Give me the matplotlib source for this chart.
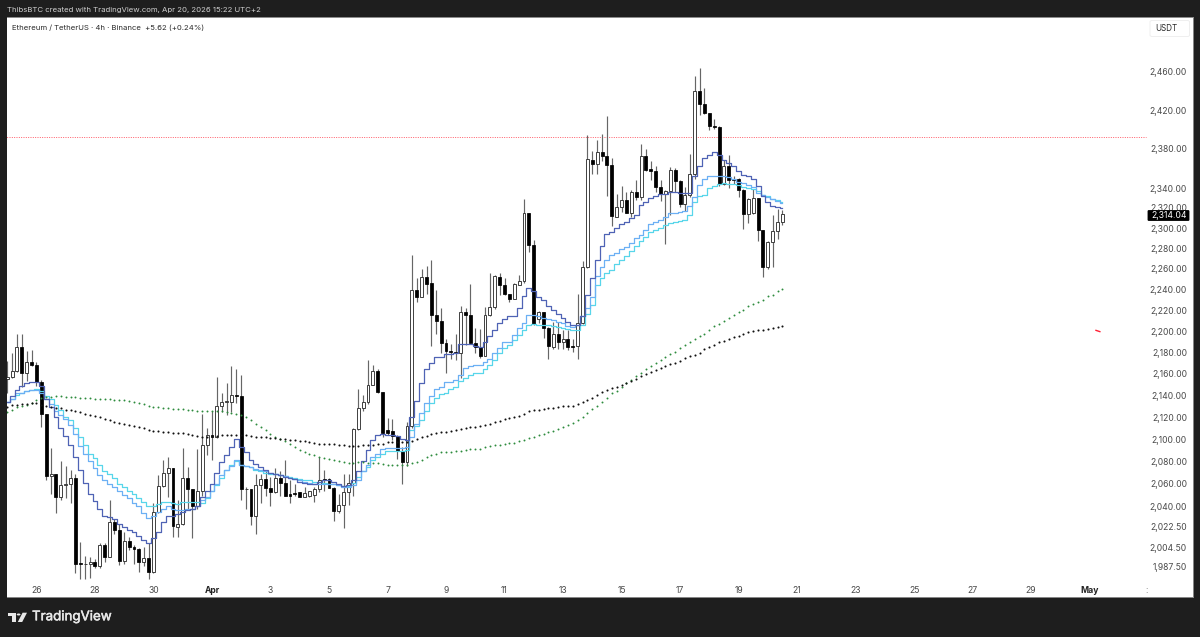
import numpy as np
import matplotlib
matplotlib.use("Agg")
import matplotlib.pyplot as plt
import matplotlib.patheffects as pe
from matplotlib.patches import Polygon, Circle, FancyBboxPatch
from matplotlib.ticker import NullLocator, FixedLocator, FixedFormatter

plt.rcParams['font.family'] = ['Inter', 'DejaVu Sans']

opens = [2155,2157,2163,2185,2161,2171,2168,2152,2123,2067,
 2069,2048,2059,2060,2065,1991,1990,1990,1992,1988,
 2006,1996,2026,2019,1993,2010,2005,2003,1992,1995,
 1983,2035,2058,2070,2074,2022,2025,2065,2055,2040,
 2054,2095,2104,2102,2130,2134,2134,2140,2139,2055,
 2055,2032,2059,2064,2056,2053,2065,2061,2051,2052,
 2053,2048,2049,2050,2055,2064,2064,2056,2036,2041,
 2053,2061,2109,2128,2134,2150,2163,2143,2108,2107,
 2103,2089,2079,2112,2239,2233,2252,2246,2215,2210,
 2189,2181,2180,2179,2218,2215,2189,2185,2177,2215,
 2223,2252,2244,2236,2231,2244,2248,2315,2283,2212,
 2218,2203,2185,2197,2190,2193,2186,2186,2208,2262,
 2368,2364,2377,2373,2363,2311,2321,2328,2315,2336,
 2331,2373,2359,2357,2341,2334,2337,2358,2347,2324,
 2333,2354,2440,2426,2417,2403,2402,2344,2362,2349,
 2349,2338,2314,2315,2330,2298,2262,2286,2297,2306]
highs = [2172,2179,2197,2197,2181,2182,2171,2154,2123,2092,
 2069,2080,2076,2072,2069,2009,1997,1996,1994,2008,
 2008,2046,2029,2025,2018,2013,2006,2004,2005,2008,
 2043,2068,2081,2084,2074,2046,2092,2075,2055,2091,
 2123,2110,2126,2157,2142,2151,2167,2164,2159,2057,
 2055,2069,2069,2071,2066,2074,2071,2081,2063,2060,
 2053,2057,2054,2057,2084,2072,2065,2057,2051,2069,
 2069,2110,2146,2140,2173,2168,2164,2143,2119,2118,
 2104,2093,2116,2273,2251,2260,2263,2269,2239,2222,
 2193,2188,2197,2224,2222,2245,2203,2202,2223,2256,
 2254,2256,2251,2236,2246,2254,2329,2315,2288,2219,
 2218,2204,2209,2209,2201,2201,2193,2236,2268,2394,
 2378,2389,2395,2414,2370,2334,2342,2336,2338,2348,
 2385,2380,2367,2362,2348,2338,2361,2360,2348,2341,
 2375,2456,2464,2443,2417,2411,2403,2368,2374,2352,
 2350,2339,2330,2339,2330,2298,2287,2313,2319,2318]
lows = [2142,2156,2162,2148,2153,2167,2149,2111,2063,2051,
 2034,2046,2047,2043,1982,1977,1977,1978,1987,1987,
 1992,1996,2016,1989,1990,2002,1990,1983,1988,1977,
 1982,2034,2057,2048,2013,2013,2024,2037,2012,2038,
 2049,2086,2081,2101,2125,2122,2125,2133,2046,2038,
 2024,2016,2043,2049,2040,2052,2049,2049,2043,2049,
 2048,2048,2048,2044,2053,2054,2056,2027,2034,2021,
 2041,2049,2108,2126,2132,2150,2142,2102,2104,2099,
 2082,2060,2076,2110,2228,2233,2236,2186,2197,2179,
 2161,2174,2173,2156,2187,2189,2179,2175,2177,2214,
 2221,2235,2235,2228,2231,2244,2246,2276,2206,2208,
 2194,2174,2183,2183,2183,2182,2180,2174,2207,2261,
 2354,2354,2367,2332,2302,2311,2316,2315,2311,2328,
 2328,2357,2348,2336,2327,2284,2313,2336,2321,2317,
 2331,2349,2415,2416,2399,2400,2342,2343,2340,2344,
 2331,2299,2305,2314,2287,2252,2260,2262,2289,2303]
closes = [2157,2163,2185,2161,2171,2168,2152,2123,2067,2069,
 2048,2059,2060,2065,1990,1990,1990,1992,1988,2006,
 1996,2026,2019,1993,2010,2005,2003,1992,1995,1983,
 2035,2058,2070,2074,2023,2025,2065,2055,2040,2054,
 2095,2104,2102,2130,2134,2135,2140,2139,2055,2055,
 2032,2059,2064,2056,2053,2065,2061,2049,2049,2051,
 2048,2052,2054,2055,2063,2063,2056,2036,2041,2053,
 2061,2109,2128,2134,2150,2163,2143,2106,2106,2103,
 2089,2079,2112,2239,2233,2252,2245,2215,2210,2189,
 2181,2180,2179,2218,2215,2189,2185,2177,2215,2223,
 2253,2244,2236,2231,2245,2248,2315,2283,2207,2218,
 2203,2186,2197,2190,2193,2185,2185,2208,2262,2369,
 2364,2377,2373,2363,2312,2321,2328,2315,2336,2331,
 2373,2358,2357,2341,2334,2337,2358,2347,2324,2333,
 2354,2440,2426,2417,2403,2402,2344,2362,2348,2348,
 2338,2314,2329,2330,2298,2262,2286,2297,2306,2314.04]

ma_dark = [2134,2139,2145,2149,2151,2152.5,2152.5,2149,2137,2129,2120,2110,2103,2095,2084,2072,2061,2051,2045,2038,
 2032,2031,2029,2025,2022,2019,2018,2014,2011,2008,2012,2018,2026,2032,2032,2033,2035,2037,2038,2040,
 2048,2054,2060,2070,2079,2086,2093,2100,2093,2088,2081,2078,2075,2072,2070,2069,2068,2066,2065,2064,
 2062,2061,2060,2060,2062,2063,2063,2062,2060,2058,2059,2063,2071,2080,2090,2099,2104,2105,2104,2104,2103,
 2100,2099,
 2120,2135,2151,2164,2170.5,2176,2176,2178.5,2178.5,2179,2188,2188,2188,2186,2185,2190,2195,2201,2207.5,2212,
 2214,2214,2222,2234,2241,2238,2233,2230,2224,2220,2216,2213,2209,2206,2206,
 2214,2235,2251,2269,2282,2294,2296,2300,2304,2306,2310,2313,2323,2326,2330,2332,2334,2334,2336,2336,
 2335,2335,2335,2352,2362,2370,2374,2377,2374,2368,2365,2362,2357,2353,2352,2349,2342,2332,2326,2322,2321,2320]
ma_mid = [2134,2137,2142,2142,2144,2145,2145,2142,2137,2132,2126,2122,2118,2113,2105,2094,2087,2080,2074,2068,
 2063,2060,2057,2054,2050,2047,2043,2040,2034,2030,2032,2035,2038,2040,2038,2037,2037,2038,2038,2040,
 2046,2048,2054,2060,2068,2072,2076,2081,2077,2076,2075,2073,2072,2071,2070,2069,2068,2067,2065,2064,
 2063,2062,2061,2060,2060,2060,2060,2060,2059,2057,2057,2059,2063,2071,2077,2084,2087,2091,2092,2092,2092,
 2092,2093,
 2102,2114,2124,2133,2139,2146,2148,2152,2152,2154.5,2159,2165,2167,2168,2168,2171,2174,2179,2184,2190,
 2190,2196,2203,2207.5,2215,2215,2214,2213,2212,2210.5,2209,2207.5,2205,2204,2206,
 2214,2222,2233,2253,2262,2269,2273,2275,2279,2281,2285,2290,2293,2298,2304,2306,2308,2311,2315,2315,
 2316,2317,2322,2331,2343,2349,2352,2352,2352,2352,2351,2349,2346.5,2345,2343,2341,2335,2333,2331,2329,2327,2325]
ma_cyan = [2134,2137,2140,2142,2144,2145,2146,2144,2139,2137,2131,2127,2120,2117,2110,2102,2095,2087,2083,2077,
 2071,2069,2065,2060,2057,2054,2051,2047,2044,2040,2040,2042,2044,2044,2043,2042,2044,2044,2044,2044,
 2043,2047,2054,2059,2065,2072,2077,2080,2077,2076,2075,2072,2071,2070,2069,2069,2068,2067,2066,2065,
 2064,2063,2063,2062,2062,2061,2060,2060,2059,2058,2058,2061,2066,2071,2075,2081,2084,2087,2089,2089,2089,
 2089,2090,
 2108,2112,2117,2126,2133,2138,2141,2142,2146,2148,2153,2156,2159,2161,2161,2164,2168,2173,2179,2184,
 2187,2192,2196,2201,2206,2207,2206,2206,2206,2205,2204,2203,2202,2201,2201,
 2206,2216,2225,2244,2251,2256,2259,2265,2269,2272,2277,2282,2287,2291,2296,2298,2300,2303,2305,2306,
 2307,2308,2313,2326,2332,2333,2340,2342,2344,2345,2344,2344,2343,2341,2340,2339,2337,2333,2332,2329,2328,2326]
dots_green = [2125,2127,2129,2130,2131,2133,2136,2137.4,2138.6,2138.6,2139,2139,2138.6,2138.6,2138.3,2138,2137.7,2137.4,2137.1,2136.8,
 2136.5,2136.2,2135.9,2135.6,2135.3,2134.7,2134,2133.1,2132,2130.4,2129.5,2128.9,2128.3,2128,2127.7,2127.4,2127.1,2126.8,2126.4,2125.8,
 2126,2126,2126,2126,2126,2125,2124,2123,2122,2120,2117,2114,2111,2108,2105,2102,2100,2098,2095.5,2092.5,
 2090,2088.6,2087,2085.6,2084,2083,2082,2081,2080,2079.3,2078.7,2078.7,2079,2079,2078.7,2078.7,2078.4,2078,2077,2077,2076.5,
 2076.6,2077,2078.7,2079.6,2081,2083.5,2085.7,2087,2088,2088.3,2088.6,2089,2089.5,2090,2091,2091.3,
 2091.3,2092.5,2093.4,2094.3,2094.9,2095.5,2096.1,2096.7,2097.9,2099.1,2100.6,2102.1,2103.6,2105.1,2106.7,2107.6,2109.1,2111.2,2112.7,2114.8,
 2117.3,2120.3,2124,2127.3,2130.3,2134.1,2138,2141.8,2144.2,2147.3,2151,2154.1,2158,2160.9,2164,2167.2,2169.7,2172.8,2175.9,2178.4,2180.6,2184.6,
 2187.4,2189.5,2192.5,2195,2197.6,2200.8,2204.6,2206.8,2209.4,2212.6,2215.1,2218,2220.5,2223.7,2225.9,2227.8,2230,2233.2,2234.8,2238,2240.3]
dots_black = [2129,2131,2131,2132,2132,2133,2133,2131,2130,2129,2128,2128,2127,2126.4,2126,2125,2123,2122,2121,2120,
 2118.5,2117,2116,2115,2114,2113,2112,2111,2109.7,2108.5,2107.6,2107,2106.7,2106.4,2106,2105.8,2105.2,2104.6,2104,2103,
 2102,2102,2102.5,2102.7,2103.6,2104,2104.2,2104.2,2104.2,2103.6,2102.7,2102,2102,2101.5,2101.2,2100.6,2100.3,2099.7,2099.1,2098.8,
 2098.2,2098,2097.3,2096.7,2096,2095.8,2095.5,2095.2,2094.6,2094.3,2094,
 2094,2094.2,2094.4,2094.6,2095,2095.5,2096,2097,2097,2097,2097,2097.3,2098.5,2099.7,2101.5,2103.3,2105,2105.7,2106.3,2106.6,2107.5,2108,2108.8,2109.7,2110.6,2111.2,
 2111.8,2113.3,2114.2,2115.5,2116.7,2117.9,2119.1,2120.3,2121.5,2123.3,2125.2,2126.4,2127,2127.6,2128.2,2128.5,2129.1,2130,2130.3,2130.6,
 2132.5,2133.7,2135.6,2137.7,2140.2,2142.7,2144.8,2146.7,2147.9,2149.8,2151.7,2153.5,2155.4,2157.8,2159.4,2161.2,2163.4,2165,2167.2,2169,2170.3,2172.2,
 2174.3,2176.5,2178,2179.6,2183.3,2185.3,2187.4,2189.5,2191.1,2192.6,2194.6,2195.8,2197.3,2199,2199.9,2200.8,2201.5,2202.1,2203,2203.7,2204.6]

price_ticks = [2460,2420,2380,2340,2320,2300,2280,2260,2240,2220,2200,2180,2160,2140,2120,2100,2080,2060,2040,2022.5,2004.5,1987.5]
time_positions = [6,18,30,42,54,66,78,90,102,114,126,138,150,162,174,186,198,210,222]
time_labels = ['26','28','30','Apr','3','5','7','9','11','13','15','17','19','21','23','25','27','29','May']
resistance = 2392.4
last_price = 2314.04

for arr in (opens, highs, lows, closes, ma_dark, ma_mid, ma_cyan, dots_green, dots_black):
    assert len(arr) == 160, len(arr)

W, H = 1200, 637
FRAME = '#1e1e1e'
fig = plt.figure(figsize=(W/100, H/100), dpi=100, facecolor=FRAME)
ax = fig.add_axes([7/W, 1-597/H, 1186/W, 580/H], facecolor='white')
def fx(x): return x/W
def fy(y): return 1-y/H

bars = np.arange(160)
O, Hi, Lo, C = map(np.array, (opens, highs, lows, closes))
ax.set_yscale('log')
ax.vlines(bars, Lo, Hi, color='#666666', lw=0.85, zorder=2)
up = C >= O
ax.bar(bars[up], (C-O)[up], bottom=O[up], width=0.6, facecolor='white', edgecolor='#333333', lw=0.65, zorder=3)
ax.bar(bars[~up], (O-C)[~up], bottom=C[~up], width=0.6, facecolor='black', edgecolor='black', lw=0.55, zorder=3)

ax.plot(bars, ma_cyan, drawstyle='steps-mid', color='#58d6ea', lw=0.9, zorder=4)
ax.plot(bars, ma_mid, drawstyle='steps-mid', color='#6cb0f4', lw=0.9, zorder=4)
ax.plot(bars, ma_dark, drawstyle='steps-mid', color='#4f63b5', lw=0.9, zorder=4)
ax.plot(bars, dots_green, ls='none', marker='o', ms=1.4, mew=0, color='#2e8b3e', zorder=4)
ax.plot(bars, dots_black, ls='none', marker='o', ms=1.5, mew=0, color='#111111', zorder=4)

ax.hlines(resistance, -1, 233.6, color='#ff5a66', lw=0.7, linestyles=(0, (1.0, 1.4)), zorder=1)
ax.plot([223.3, 224.1], [2200.8, 2199.6], color='#ff1f33', lw=1.0, zorder=4)

ax.set_xlim(-0.04, 243.2)
ax.set_ylim(1961.9, 2519.0)
ax.yaxis.set_major_locator(FixedLocator(price_ticks))
ax.yaxis.set_major_formatter(FixedFormatter([f'{p:,.2f}' for p in price_ticks]))
ax.yaxis.set_minor_locator(NullLocator())
ax.tick_params(axis='y', which='both', left=False, right=False, labelleft=False, labelright=True,
               pad=-4.4, labelsize=6.2, labelcolor='#4a4a4a', length=0)
for t in ax.get_yticklabels():
    t.set_ha('right')
ax.set_xticks(time_positions + [233.6])
ax.set_xticklabels(time_labels + [':'])
ax.tick_params(axis='x', bottom=False, pad=-8.2, labelsize=6.2, labelcolor='#4a4a4a', length=0)
for t in ax.get_xticklabels():
    if t.get_text() in ('Apr', 'May'):
        t.set_fontweight('bold')
        t.set_color('#222222')
for s in ax.spines.values():
    s.set_color('#8a8a8a'); s.set_linewidth(0.7)
ax.spines['left'].set_visible(False)

# last-price tag
fig.add_artist(FancyBboxPatch((1148/W, fy(220.5)), 41/W, 10/H, boxstyle='round,pad=0,rounding_size=0.001',
                              transform=fig.transFigure, fc='black', ec='black', lw=0.6, zorder=6))
fig.text(fx(1186.8), fy(215.4), f'{last_price:,.2f}', color='white', fontsize=6.2, ha='right', va='center', zorder=7)

# unit box
fig.add_artist(FancyBboxPatch((1150/W, fy(36.5)), 39.5/W, 16/H, boxstyle='round,pad=0,rounding_size=0.002',
                              transform=fig.transFigure, fc='white', ec='#ececec', lw=0.6, zorder=6))
fig.text(fx(1155), fy(28.4), 'USDT', color='#2a2a2a', fontsize=5.8, ha='left', va='center', zorder=7)

# header texts
fig.text(fx(7), fy(10), 'ThibsBTC created with TradingView.com, Apr 20, 2026 15:22 UTC+2',
         color='#cfcfcf', fontsize=5.6, ha='left', va='center')
fig.text(fx(12), fy(28), 'Ethereum / TetherUS · 4h · Binance  +5.62 (+0.24%)',
         color='#2a2a2a', fontsize=5.55, ha='left', va='center', zorder=7)

# logo
logo = '#e8e8e8'
for pts in ([(8,612.7),(15.6,612.7),(15.6,622),(12,622),(12,616.3),(8,616.3)],
            [(22.6,612.7),(27,612.7),(22.2,622),(17.8,622)]):
    fig.add_artist(Polygon([(fx(x), fy(y)) for x, y in pts], closed=True, transform=fig.transFigure, fc=logo, ec='none'))
fig.add_artist(Circle((fx(18.6), fy(614.5)), 1.9/W, transform=fig.transFigure, fc=logo, ec='none'))
fig.text(fx(32), fy(617.3), 'TradingView', color=logo, fontsize=9.6, ha='left', va='center',
         path_effects=[pe.withStroke(linewidth=0.35, foreground=logo)])

fig.savefig('out.png', dpi=100, facecolor=FRAME)
